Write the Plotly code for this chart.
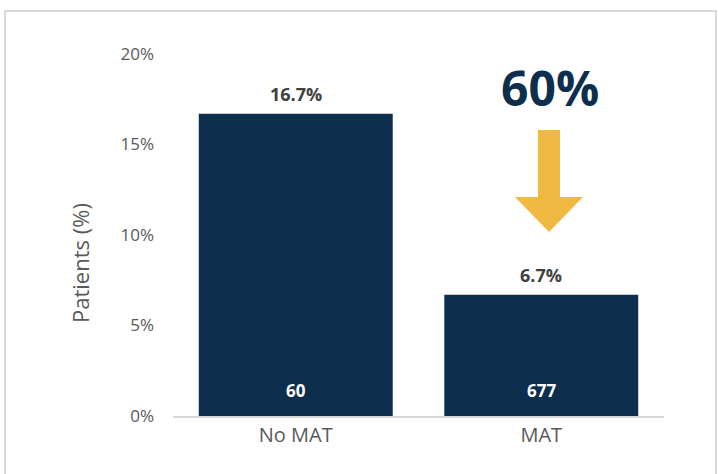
import plotly.graph_objects as go

categories = ["No MAT", "MAT"]
patients_pct = [16.7, 6.7]
patient_counts = [60, 677]
reduction_label = "60%"
y_title = "Patients (%)"
y_ticks = [0, 5, 10, 15, 20]
y_tick_labels = ["0%", "5%", "10%", "15%", "20%"]

W, H = 718, 474
ML, MR, MT, MB = 173, 54, 54, 58
PW, PH = W - ML - MR, H - MT - MB

def px_x(px):
    return (px - ML) / PW

def px_y(py):
    return (H - MB - py) / PH

navy = "#0E2E4E"
gold = "#F0BA42"

fig = go.Figure()
fig.add_trace(go.Bar(
    x=categories, y=patients_pct,
    marker=dict(color=navy, line=dict(width=0)),
    width=0.79, hoverinfo="skip",
))

for c, v, n in zip(categories, patients_pct, patient_counts):
    fig.add_annotation(x=c, y=v, yanchor="bottom", yshift=6, text=f"<b>{v:.1f}%</b>",
                       showarrow=False,
                       font=dict(family="Open Sans", size=18, color="#404040"))
    fig.add_annotation(x=c, y=0, yanchor="bottom", yshift=12, text=f"<b>{n}</b>",
                       showarrow=False,
                       font=dict(family="Open Sans", size=17, color="white"))

# y-axis title (placed like the reference, slightly below centre)
fig.add_annotation(xref="paper", yref="paper", x=px_x(80), y=px_y(263),
                   text=y_title, textangle=-90, showarrow=False,
                   xanchor="center", yanchor="middle",
                   font=dict(family="Open Sans", size=22, color="#595959"))

# big reduction label
fig.add_annotation(xref="paper", yref="paper", x=px_x(550), y=px_y(87),
                   text=f"<b>{reduction_label}</b>", showarrow=False,
                   xanchor="center", yanchor="middle",
                   font=dict(family="Open Sans", size=48, color=navy))

# arrow shape
pts = [(538, 130), (560, 130), (560, 197), (583, 197), (549, 232), (515, 197), (538, 197)]
path = "M " + " L ".join(f"{px_x(a):.5f},{px_y(b):.5f}" for a, b in pts) + " Z"
fig.add_shape(type="path", xref="paper", yref="paper", path=path,
              fillcolor=gold, line=dict(width=0))

# outer border
fig.add_shape(type="rect", xref="paper", yref="paper",
              x0=px_x(5), x1=px_x(716), y0=px_y(480), y1=px_y(11),
              line=dict(color="#D9D9D9", width=2), fillcolor="rgba(0,0,0,0)", layer="below")

fig.update_layout(
    width=W, height=H,
    margin=dict(l=ML, r=MR, t=MT, b=MB),
    paper_bgcolor="white", plot_bgcolor="white",
    showlegend=False,
    bargap=0.21,
    font=dict(family="Open Sans", color="#595959"),
)
fig.update_yaxes(range=[0, 20], tickvals=y_ticks, ticktext=y_tick_labels,
                 showgrid=False, zeroline=False, showline=False,
                 tickfont=dict(size=17, color="#595959"),
                 ticks="", ticklabelstandoff=18)
fig.update_xaxes(showgrid=False, showline=True, linecolor="#D9D9D9", linewidth=2,
                 ticks="", tickfont=dict(size=20, color="#595959"))

fig.write_html("out.html", config={"displayModeBar": False},
               post_script="document.body.style.margin='0';document.body.style.overflow='hidden';")
